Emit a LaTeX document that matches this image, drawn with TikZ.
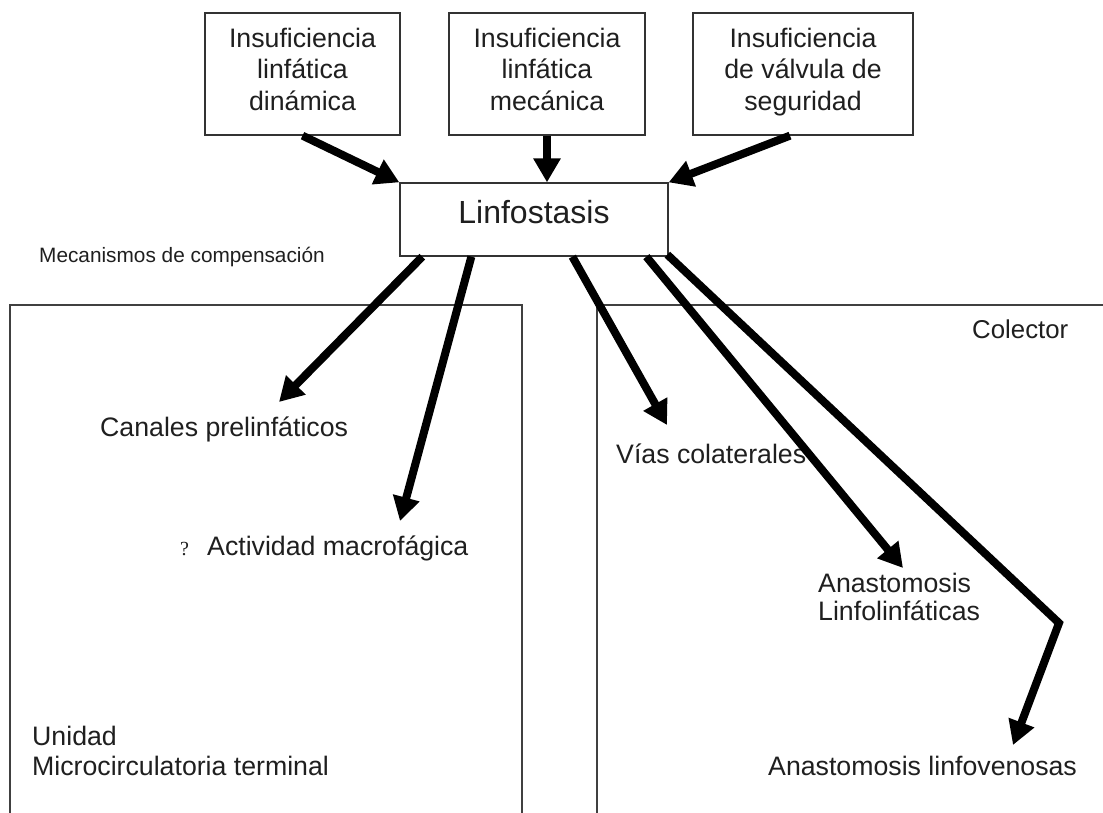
\documentclass[tikz,border=0pt]{standalone}
\usepackage{fontspec}
\setmainfont{Liberation Sans}
\newfontfamily\serifq{Liberation Serif}
\usetikzlibrary{arrows.meta,calc}
\begin{document}
\begin{tikzpicture}[x=1pt,y=-1pt,
  box/.style={draw=black!80,line width=1.3pt,fill=white,inner sep=0pt,align=center,
    font=\fontsize{26.7}{31.5}\selectfont,text=black!88},
  topbox/.style={box,minimum height=122pt,text depth=10pt},
  lbl/.style={anchor=base west,inner sep=0pt,font=\fontsize{26.7}{30}\selectfont,text=black!88},
  arr/.style={line width=8pt,-{Triangle[length=24pt,width=26pt]}},
  region/.style={draw=black!75,line width=1.5pt}]
\useasboundingbox (0,0) rectangle (1103,812);
\clip (0,0) rectangle (1103,812);
\fill[white] (0,0) rectangle (1103,812);
% regions
\draw[region] (10,830) -- (10,305) -- (522,305) -- (522,830);
\draw[region] (597,830) -- (597,305) -- (1120,305);
% boxes
\node[topbox,minimum width=195pt] (b1) at (302.5,74) {Insuficiencia\\linfática\\dinámica};
\node[topbox,minimum width=196pt] (b2) at (547,74) {Insuficiencia\\linfática\\mecánica};
\node[topbox,minimum width=220pt] (b3) at (803,74) {Insuficiencia\\de válvula de\\seguridad};
\node[box,minimum width=268pt,minimum height=73pt,font=\fontsize{32}{36}\selectfont,text depth=16pt] (lin) at (534,219.5) {Linfostasis};
% labels
\node[lbl,font=\fontsize{20.8}{24}\selectfont] (mec) at (39,262) {Mecanismos de compensación};
\node[lbl,font=\fontsize{25.8}{30}\selectfont] (col) at (972,338) {Colector};
\node[lbl] (can) at (100,436) {Canales prelinfáticos};
\node[lbl,font=\fontsize{20}{24}\selectfont\serifq] (q) at (180,555) {?};
\node[lbl] (act) at (207,555) {Actividad macrofágica};
\node[lbl] (vias) at (616,463) {Vías colaterales};
\node[lbl] (ana1) at (818,592) {Anastomosis};
\node[lbl] (ana2) at (818,620) {Linfolinfáticas};
\node[lbl] (uni1) at (32,745) {Unidad};
\node[lbl] (uni2) at (32,775) {Microcirculatoria terminal};
\node[lbl] (alv) at (768,775) {Anastomosis linfovenosas};
% arrow end points
\coordinate (t1) at (lin.north west);
\coordinate (t3) at (lin.north east);
\coordinate (s3) at ($(b3.south)+(-13,0)$);
\coordinate (sa) at ($(lin.south west)+(23,0)$);
\coordinate (sb) at ($(lin.south west)+(72,0)$);
\coordinate (sc) at ($(lin.south west)+(173,0)$);
\coordinate (sd) at ($(lin.south west)+(247,0)$);
\coordinate (se) at ($(lin.south west)+(268,-2)$);
\coordinate (ta) at (279,402);
\coordinate (tb) at (400,521);
\coordinate (tc) at (667,425);
\coordinate (td) at (903,568);
\coordinate (be) at (1059,623);
\coordinate (te) at (1013,745);
% arrows
\draw[arr] (b1.south) -- (t1);
\draw[arr] (b2.south) -- (b2.south |- lin.north);
\draw[arr] (s3) -- (t3);
\draw[arr] (sa) -- (ta);
\draw[arr] (sb) -- (tb);
\draw[arr] (sc) -- (tc);
\draw[arr] (sd) -- (td);
\draw[arr,line join=miter] (se) -- (be) -- (te);
\end{tikzpicture}
\end{document}
